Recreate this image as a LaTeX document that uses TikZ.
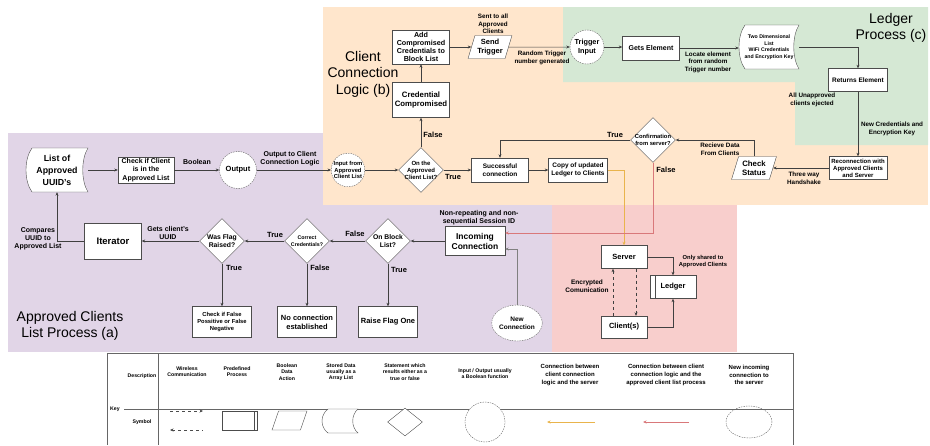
\documentclass[tikz,border=0pt]{standalone}
\usepackage{fontspec}
\setmainfont{Liberation Sans}
\usetikzlibrary{shapes.geometric,arrows.meta}

\definecolor{areaA}{HTML}{E1D5E7}
\definecolor{areaB}{HTML}{FFE6CC}
\definecolor{areaC}{HTML}{D5E8D4}
\definecolor{areaS}{HTML}{F8CECC}
\definecolor{toserver}{HTML}{E9B44C}
\definecolor{tolist}{HTML}{D9787A}

\newcommand{\bfsz}[2]{\bfseries\fontsize{#1}{#2}\selectfont}
% stored data: name, x, y, half width, half height, font, text
\newcommand{\storedbox}[7]{%
  \draw[black!70, line width=.4pt, fill=white]
    (#2-#4+6,#3-#5) -- (#2+#4,#3-#5)
    .. controls (#2+#4-7,#3-#5/2) and (#2+#4-7,#3+#5/2) .. (#2+#4,#3+#5)
    -- (#2-#4+6,#3+#5)
    .. controls (#2-#4-2,#3+#5/2) and (#2-#4-2,#3-#5/2) .. (#2-#4+6,#3-#5) -- cycle;
  \node[font=#6, align=center, inner sep=0pt, minimum width=2*#4, minimum height=2*#5] (#1) at (#2,#3) {#7};}

\tikzset{
  txt/.style={font=\bfsz{6.3}{7.6}, align=center, inner sep=0pt},
  txtA/.style={font=\bfsz{7}{8}, align=center, inner sep=0pt},
  tf/.style={font=\bfsz{7.5}{8.5}, inner sep=0pt},
  areatitle/.style={font=\fontsize{14}{16.5}\selectfont, align=center, inner sep=0pt},
  wh/.style 2 args={minimum width=#1pt, minimum height=#2pt},
  box/.style={draw=black!70, line width=.4pt, fill=white, align=center, inner sep=1pt, font=\bfsz{7}{8.2}},
  dec/.style={diamond, aspect=1, draw=black!70, line width=.4pt, fill=white, inner sep=0pt, minimum width=45pt, minimum height=45pt},
  io/.style={circle, draw=black!60, dash pattern=on 1.5pt off 1pt, line width=.4pt, fill=white, inner sep=0pt, align=center},
  para/.style={trapezium, trapezium left angle=70, trapezium right angle=110, trapezium stretches=true, draw=black!70, line width=.4pt, fill=white, align=center, inner sep=0pt},
  predef/.style={path picture={\draw[line width=.6pt] ([xshift=5pt]path picture bounding box.north west) -- ([xshift=5pt]path picture bounding box.south west);}},
  conn/.style={draw=black!75, line width=.5pt, ->},
  keytxt/.style={font=\bfsz{5.2}{6.2}, align=center, inner sep=0pt},
  keytxtB/.style={font=\bfsz{6}{7.6}, align=center, inner sep=0pt},
}

\begin{document}
\begin{tikzpicture}[x=1pt,y=-1pt,>={Stealth[length=3.5pt,width=3pt]}]
\useasboundingbox (0,0) rectangle (930,445);
% areas
\fill[areaA] (8,133) rectangle (552,352);
\fill[areaB] (323,7) rectangle (928,205);
\fill[areaC] (563,7) rectangle (928,82) (795,82) rectangle (928,145);
\fill[areaS] (552,205) rectangle (737,352);

\node[areatitle] (titleb) at (363,74) {Client\\Connection\\Logic (b)};
\node[areatitle] (titlec) at (891,28) {Ledger\\Process (c)};
\node[areatitle] (titlea) at (70,326) {Approved Clients\\List Process (a)};

% approved clients list process
\storedbox{list}{57}{170}{31}{22}{\bfsz{8.8}{12}}{List of\\Approved\\UUID's}
\node[box, wh={56}{26}] (checkc) at (146,170) {Check if Client\\is in the\\Approved List};
\node[io, minimum size=37pt, font=\bfsz{7.5}{9}] (output) at (238,170) {Output};
\node[box, wh={57}{36}, font=\bfsz{9.5}{11}] (iterator) at (113,241) {Iterator};
\node[dec, label={[font=\bfsz{6.8}{7.8}, align=center]center:{Was Flag\\Raised?}}] (flag) at (222,241) {};
\node[dec, label={[font=\bfsz{5.3}{6.4}, align=center]center:{Correct\\Credentials?}}] (correct) at (307,241) {};
\node[dec, label={[font=\bfsz{6.8}{7.8}, align=center]center:{On Block\\List?}}] (blocklist) at (388,241) {};
\node[box, wh={59}{31}, font=\bfsz{5.8}{7}] (checkfp) at (222,322) {Check if False\\Possitive or False\\Negative};
\node[box, wh={59}{31}, font=\bfsz{7.5}{9}] (noconn) at (307,322) {No connection\\established};
\node[box, wh={59}{31}, font=\bfsz{7.5}{9}] (raise) at (388,322) {Raise Flag One};
\node[box, wh={60}{29}, font=\bfsz{8.5}{10}] (incoming) at (475,241) {Incoming\\Connection};
\node[ellipse, draw=black!60, dash pattern=on 1.5pt off 1pt, line width=.4pt, fill=white, inner sep=0pt, align=center,
  minimum width=46pt, minimum height=36pt, font=\bfsz{6.5}{8}] (newconn) at (517,323) {New\\Connection};

% client connection logic
\node[io, minimum size=33pt, font=\bfsz{5.8}{6.6}] (inputc) at (348,170) {Input from\\Approved\\Client List};
\node[dec, label={[font=\bfsz{6}{7}, align=center]center:{On the\\Approved\\Client List?}}] (onlist) at (421,170) {};
\node[box, wh={57}{35}, font=\bfsz{7.8}{8.8}] (credcomp) at (421,100) {Credential\\Compromised};
\node[box, wh={57}{34}, font=\bfsz{7.2}{8}] (addblock) at (421,47) {Add\\Compromised\\Credentials to\\Block List};
\node[para, minimum width=44pt, minimum height=23pt, font=\bfsz{7.5}{9}] (send) at (490,47) {Send\\Trigger};
\node[io, minimum size=34pt, font=\bfsz{7.3}{8.5}] (trigger) at (587,47) {Trigger\\Input};
\node[box, wh={57}{24}, font=\bfsz{7}{8}] (gets) at (651,48) {Gets Element};
\storedbox{twod}{769}{47}{30}{22}{\bfsz{5.2}{6.6}}{Two Dimensional\\List\\WiFi Credentials\\and Encryption Key}
\node[box, wh={59}{23}, font=\bfsz{6.5}{8}] (returns) at (858,80) {Returns Element};
\node[box, wh={58}{23}, font=\bfsz{6}{7}] (reconn) at (858,168) {Reconnection with\\Approved Clients\\and Server};
\node[para, minimum width=45pt, minimum height=23pt, font=\bfsz{7.8}{9.3}] (check) at (754,168) {Check\\Status};
\node[dec, label={[font=\bfsz{5.8}{7}, align=center]center:{Confirmation\\from server?}}] (confirm) at (653,140) {};
\node[box, wh={57}{24}, font=\bfsz{6.5}{8}] (succ) at (500,170) {Successful\\connection};
\node[box, wh={59}{24}, font=\bfsz{6.5}{8}] (copy) at (578,170) {Copy of updated\\Ledger to Clients};

% server
\node[box, wh={46}{23}, font=\bfsz{7.5}{9}] (server) at (624,257) {Server};
\node[box, predef, wh={46}{23}, font=\bfsz{7.5}{9}] (ledger) at (673,287) {Ledger};
\node[box, wh={46}{22}, font=\bfsz{7.5}{9}] (client) at (624,327) {Client(s)};

% connectors
\draw[conn] (list) -- (checkc);
\draw[conn] (checkc) -- (output);
\draw[conn] (output) -- (inputc);
\draw[conn] (iterator.west) -| (list.south);
\draw[conn] (flag) -- (iterator);
\draw[conn] (flag) -- (checkfp);
\draw[conn] (correct) -- (flag);
\draw[conn] (correct) -- (noconn);
\draw[conn] (blocklist) -- (correct);
\draw[conn] (blocklist) -- (raise);
\draw[conn] (incoming) -- (blocklist);
\draw[conn, draw=gray] (newconn.north) |- ([yshift=-8pt]incoming.east);
\draw[conn] (inputc) -- (onlist);
\draw[conn] (onlist) -- (succ);
\draw[conn] (onlist) -- (credcomp);
\draw[conn] (credcomp) -- (addblock);
\draw[conn] (addblock) -- (send);
\draw[conn] (send) -- (trigger);
\draw[conn] (trigger) -- (trigger -| gets.west);
\draw[conn] (gets) -- (gets -| twod.west);
\draw[conn] (twod.east) -| (returns.north);
\draw[conn] (returns) -- (reconn);
\draw[conn] (reconn) -- (check);
\draw[conn] (check.north) |- (confirm.east);
\draw[conn] (confirm.west) -| (succ.north);
\draw[conn] (succ) -- (copy);
\draw[->, toserver, line width=.8pt] (copy.east) -| (server.north);
\draw[->, tolist, line width=.8pt] (confirm.south) |- ([yshift=8pt]incoming.east);
\draw[conn] (server.east) -| (ledger.north);
\draw[conn] (client.east) -| (ledger.south);
\draw[conn, dashed] ([xshift=-11pt]client.north) -- ([xshift=-11pt]server.south);
\draw[conn, dashed] ([xshift=12pt]server.south) -- ([xshift=12pt]client.north);

% labels
\node[txtA] (lblbool) at (197,162) {Boolean};
\node[txtA] (lblout) at (290,159) {Output to Client\\Connection Logic};
\node[txtA] (lbluuid) at (168,233) {Gets client's\\UUID};
\node[txtA] (lblcompare) at (38,239) {Compares\\UUID to\\Approved List};
\node[txtA] (lblsession) at (479,218) {Non-repeating and non-\\sequential Session ID};
\node[tf] (lbltrue5) at (234,268) {True};
\node[tf] (lbltrue4) at (275,235) {True};
\node[tf] (lblfalse4) at (320,268) {False};
\node[tf] (lblfalse3) at (355,234) {False};
\node[tf] (lbltrue3) at (399,270) {True};
\node[tf] (lbltrue1) at (453,177) {True};
\node[tf] (lblfalse1) at (433,135) {False};
\node[tf] (lbltrue2) at (615,135) {True};
\node[tf] (lblfalse2) at (666,170) {False};
\node[txt] (lblsent) at (493,24) {Sent to all\\Approved\\Clients};
\node[txt] (lblrandom) at (542,58) {Random Trigger\\number generated};
\node[txt] (lbllocate) at (708,62) {Locate element\\from random\\Trigger number};
\node[txt] (lbleject) at (812,100) {All Unapproved\\clients ejected};
\node[txt] (lblnewcred) at (892,129) {New Credentials and\\Encryption Key};
\node[txt] (lblhand) at (804,178) {Three way\\Handshake};
\node[txt] (lblrecv) at (720,149) {Recieve Data\\From Clients};
\node[txt, font=\bfsz{5.8}{7}] (lblshared) at (703,261) {Only shared to\\Approved Clients};
\node[txt, font=\bfsz{6.5}{8}] (lblenc) at (587,286) {Encrypted\\Comunication};

% key
\draw[black!60, line width=.5pt] (107,353) -- (793,353) (107,353) -- (107,445) (158,353) -- (158,445)
  (793,353) -- (793,445) (124,409) -- (793,409);
\node[keytxt] (keykey) at (115,409) {Key};
\node[keytxt] (keydesc) at (142,376) {Description};
\node[keytxt] (keysym) at (142,422) {Symbol};
\node[keytxt] (keywl) at (187,372) {Wireless\\Communication};
\node[keytxt] (keypre) at (237,372) {Predefined\\Process};
\node[keytxt] (keybl) at (287,372) {Boolean\\Data\\Action};
\node[keytxt] (keysd) at (341,372) {Stored Data\\usually as a\\Array List};
\node[keytxt] (keyst) at (405,372) {Statement which\\results either as a\\true or false};
\node[keytxt] (keyin) at (485,374) {Input / Output usually\\a Boolean function};
\node[keytxtB] (keycs) at (570,375) {Connection between\\client connection\\logic and the server};
\node[keytxtB] (keycl) at (666,375) {Connection between client\\connection logic and the\\approved client list process};
\node[keytxtB] (keync) at (749,375) {New incoming\\connection to\\the server};

\draw[->, dashed, black!70] (170,411) -- (203,411);
\draw[<-, dashed, black!70] (170,430) -- (203,430);
\draw[black!70, line width=.4pt] (222,411) rectangle (257,430) (254,411) -- (254,430);
\node[para, minimum width=35pt, minimum height=19pt] (keybool) at (289.5,420.5) {\phantom{M}};
\storedbox{keystored}{340}{421}{18}{12}{\tiny}{}
\node[dec, minimum width=35pt, minimum height=28pt] (keydec) at (405,422) {};
\node[io, minimum size=40pt] (keyio) at (485,422) {};
\draw[->, toserver, line width=.8pt] (595,422) -- (547,422);
\draw[->, tolist, line width=.8pt] (689,422) -- (643,422);
\node[ellipse, draw=black!60, dash pattern=on 1.5pt off 1pt, line width=.4pt, minimum width=46pt, minimum height=32pt] (keynew) at (749,422) {};
\end{tikzpicture}
\end{document}
